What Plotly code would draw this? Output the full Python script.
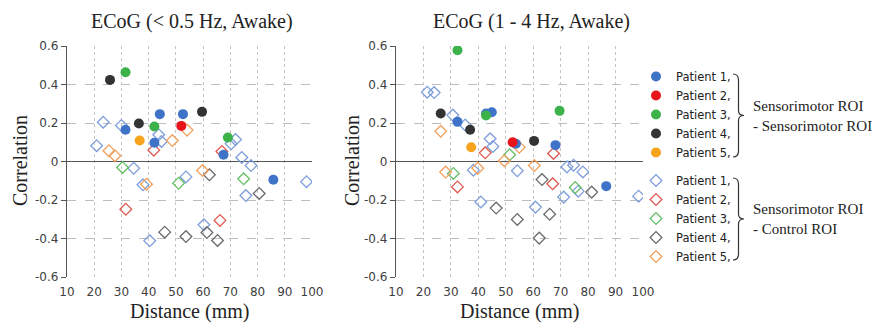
import plotly.graph_objects as go

W, H = 873, 327

patients = ["Patient 1,", "Patient 2,", "Patient 3,", "Patient 4,", "Patient 5,"]
fill_colors = ["#3f73c8", "#e8141b", "#3bb34a", "#333333", "#f7a31c"]
open_colors = ["#7d9edb", "#e0584f", "#66bf66", "#6a6a6a", "#f0a05c"]

titles = ["ECoG (< 0.5 Hz, Awake)", "ECoG (1 - 4 Hz, Awake)"]
x_ticks = [10, 20, 30, 40, 50, 60, 70, 80, 90, 100]
y_ticks = [-0.6, -0.4, -0.2, 0, 0.2, 0.4, 0.6]
y_ticktext = ["-0.6", "-0.4", "-0.2", "0", "0.2", "0.4", "0.6"]

# ---- ECoG (< 0.5 Hz): Sensorimotor ROI - Sensorimotor ROI (filled)
low_sm_x = [
    [31.5, 44.1, 42.1, 52.6, 67.5, 85.8],
    [52.0],
    [31.5, 42.1, 69.1],
    [25.8, 36.4, 59.6],
    [36.7],
]
low_sm_y = [
    [0.165, 0.246, 0.097, 0.246, 0.035, -0.095],
    [0.185],
    [0.464, 0.182, 0.125],
    [0.424, 0.197, 0.258],
    [0.109],
]
# ---- ECoG (< 0.5 Hz): Sensorimotor ROI - Control ROI (open)
low_ct_x = [
    [23.3, 20.9, 30.0, 43.7, 44.7, 70.3, 71.9, 74.2, 77.6, 34.5, 37.9, 40.4, 53.7, 60.3, 75.7, 98.0],
    [41.9, 66.9, 31.6, 66.2],
    [30.4, 51.0, 74.9],
    [45.9, 53.7, 62.3, 61.4, 65.3, 80.6],
    [25.4, 27.6, 48.7, 54.1, 39.2, 59.8],
]
low_ct_y = [
    [0.204, 0.082, 0.187, 0.139, 0.104, 0.092, 0.114, 0.021, -0.021, -0.035, -0.121, -0.412, -0.080, -0.329, -0.177, -0.105],
    [0.059, 0.052, -0.248, -0.306],
    [-0.031, -0.113, -0.090],
    [-0.367, -0.390, -0.069, -0.369, -0.410, -0.166],
    [0.056, 0.030, 0.109, 0.163, -0.118, -0.047],
]
# ---- ECoG (1 - 4 Hz): Sensorimotor ROI - Sensorimotor ROI (filled)
delta_sm_x = [
    [32.4, 42.8, 44.9, 53.7, 68.1, 86.6],
    [52.5],
    [32.4, 42.8, 69.6],
    [26.3, 37.0, 60.3],
    [37.4],
]
delta_sm_y = [
    [0.206, 0.249, 0.256, 0.092, 0.085, -0.128],
    [0.100],
    [0.578, 0.239, 0.263],
    [0.249, 0.165, 0.107],
    [0.074],
]
# ---- ECoG (1 - 4 Hz): Sensorimotor ROI - Control ROI (open)
delta_ct_x = [
    [21.4, 23.9, 30.7, 35.2, 44.3, 45.3, 72.3, 74.7, 78.1, 38.2, 40.9, 54.2, 60.8, 71.1, 76.4, 98.4],
    [42.5, 67.4, 32.4, 67.1],
    [51.4, 30.9, 75.3],
    [46.5, 54.2, 63.2, 66.0, 62.2, 81.3],
    [26.3, 54.9, 49.5, 28.1, 39.8, 60.4],
]
delta_ct_y = [
    [0.360, 0.358, 0.241, 0.19, 0.118, 0.078, -0.028, -0.019, -0.054, -0.045, -0.210, -0.048, -0.237, -0.185, -0.154, -0.18],
    [0.045, 0.042, -0.132, -0.116],
    [0.035, -0.062, -0.135],
    [-0.242, -0.301, -0.094, -0.274, -0.398, -0.159],
    [0.157, 0.074, 0.004, -0.055, -0.035, -0.021],
]

fig = go.Figure()

panels = [
    ("x", "y", low_sm_x, low_sm_y, low_ct_x, low_ct_y, True),
    ("x2", "y2", delta_sm_x, delta_sm_y, delta_ct_x, delta_ct_y, False),
]

for xa, ya, smx, smy, ctx, cty, show in panels:
    for i in range(5):
        fig.add_trace(go.Scatter(
            x=ctx[i], y=cty[i], mode="markers", xaxis=xa, yaxis=ya,
            name=patients[i], legendgroup="ctrl", showlegend=show, legendrank=100 + i,
            marker=dict(symbol="diamond-open", size=9, color=open_colors[i],
                        line=dict(width=1.3, color=open_colors[i])),
        ))
    for i in range(5):
        fig.add_trace(go.Scatter(
            x=smx[i], y=smy[i], mode="markers", xaxis=xa, yaxis=ya,
            name=patients[i], legendgroup="sm", showlegend=show, legendrank=i,
            marker=dict(symbol="circle", size=10, color=fill_colors[i]),
        ))

ydom = [1 - 277 / H, 1 - 46 / H]
xdoms = [[67 / W, 312 / W], [396 / W, 643 / W]]
zero_pos = (ydom[0] + ydom[1]) / 2

tickfont = dict(family="DejaVu Sans", size=12, color="#404040")
for k in range(2):
    sx = "" if k == 0 else "2"
    fig.layout["xaxis" + sx] = dict(
        domain=xdoms[k], range=[10, 100], tickvals=x_ticks,
        showgrid=True, gridcolor="#c4c4c4", griddash="dot", gridwidth=1,
        zeroline=False, showline=False, ticks="outside", ticklen=4,
        tickcolor="rgba(0,0,0,0)", tickfont=tickfont, anchor="y" + sx,
        automargin=False, fixedrange=True,
    )
    fig.layout["yaxis" + sx] = dict(
        domain=ydom, range=[-0.6, 0.6], tickvals=y_ticks, ticktext=y_ticktext,
        showgrid=True, gridcolor="#bdbdbd", griddash="dash", gridwidth=1,
        zeroline=True, zerolinecolor="#555555", zerolinewidth=1.3,
        showline=True, linecolor="#555555", linewidth=1.3,
        ticks="outside", ticklen=5, tickcolor="#555555", tickfont=tickfont,
        anchor="x" + sx, automargin=False, fixedrange=True,
    )
    # tick marks along the zero line (the x axis crosses at y = 0)
    fig.layout["xaxis" + str(k + 3)] = dict(
        overlaying="x" + sx, anchor="free", position=zero_pos, range=[10, 100],
        tickvals=x_ticks, ticks="outside", ticklen=4, tickcolor="#555555",
        showticklabels=False, showgrid=False, zeroline=False, showline=False,
        automargin=False, fixedrange=True,
    )
    # inner half of the crossing y ticks
    fig.layout["yaxis" + str(k + 3)] = dict(
        overlaying="y" + sx, anchor="x" + sx, side="left", range=[-0.6, 0.6],
        tickvals=y_ticks, ticks="inside", ticklen=3, tickcolor="#555555",
        showticklabels=False, showgrid=False, zeroline=False, showline=False,
        automargin=False, fixedrange=True,
    )

serif = "Liberation Serif"
annotations = []
title_x = [192, 531]
for k in range(2):
    annotations.append(dict(text=titles[k], x=title_x[k] / W, y=1 - 22 / H, xref="paper", yref="paper",
                            showarrow=False, font=dict(family=serif, size=20, color="#222222"),
                            xanchor="center", yanchor="middle"))
    annotations.append(dict(text="Distance (mm)", x=(xdoms[k][0] + xdoms[k][1]) / 2, y=1 - 311 / H,
                            xref="paper", yref="paper", showarrow=False,
                            font=dict(family=serif, size=20, color="#222222"),
                            xanchor="center", yanchor="middle"))
annotations.append(dict(text="Correlation", x=20 / W, y=1 - 161 / H, xref="paper", yref="paper",
                        showarrow=False, textangle=-90, font=dict(family=serif, size=20, color="#222222"),
                        xanchor="center", yanchor="middle"))
annotations.append(dict(text="Correlation", x=352 / W, y=1 - 161 / H, xref="paper", yref="paper",
                        showarrow=False, textangle=-90, font=dict(family=serif, size=20, color="#222222"),
                        xanchor="center", yanchor="middle"))
group_labels = ["Sensorimotor ROI<br>- Sensorimotor ROI", "Sensorimotor ROI<br>- Control ROI"]
group_y = [116, 219]
for k in range(2):
    annotations.append(dict(text=group_labels[k], x=751 / W, y=1 - group_y[k] / H, xref="paper", yref="paper",
                            showarrow=False, align="left", font=dict(family=serif, size=15, color="#222222"),
                            xanchor="left", yanchor="middle"))


def brace(y0, y1, x0=733, x1=744):
    ym = (y0 + y1) / 2
    xm = (x0 + x1) / 2
    def px(x):
        return x / W
    def py(y):
        return 1 - y / H
    return (f"M {px(x0)},{py(y0)} Q {px(xm)},{py(y0)} {px(xm)},{py(y0 + 6)} "
            f"L {px(xm)},{py(ym - 5)} Q {px(xm)},{py(ym)} {px(x1)},{py(ym)} "
            f"Q {px(xm)},{py(ym)} {px(xm)},{py(ym + 5)} "
            f"L {px(xm)},{py(y1 - 6)} Q {px(xm)},{py(y1)} {px(x0)},{py(y1)}")


shapes = [
    dict(type="path", path=brace(74, 157), xref="paper", yref="paper", line=dict(color="#333333", width=1.2)),
    dict(type="path", path=brace(178, 260), xref="paper", yref="paper", line=dict(color="#333333", width=1.2)),
]

fig.update_layout(
    width=W, height=H, margin=dict(l=0, r=0, t=0, b=0),
    paper_bgcolor="white", plot_bgcolor="white",
    annotations=annotations, shapes=shapes,
    legend=dict(x=636 / W, y=1 - 62 / H, xanchor="left", yanchor="top",
                font=dict(family="DejaVu Sans", size=11.5, color="#222222"),
                tracegroupgap=9, itemwidth=30, bgcolor="rgba(0,0,0,0)",
                traceorder="grouped"),
    showlegend=True,
)

fig.write_html("out.html", config={"displayModeBar": False},
               post_script="document.body.style.margin='0px';")
